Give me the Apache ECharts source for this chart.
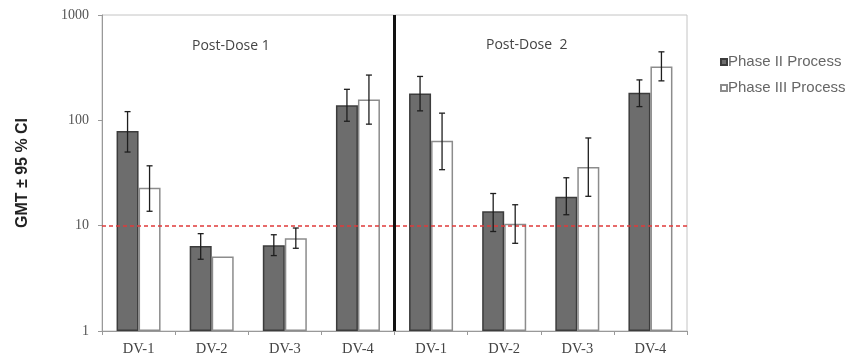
<!DOCTYPE html>
<html>
<head>
<meta charset="utf-8">
<script src="https://cdn.jsdelivr.net/npm/echarts@6/dist/echarts.min.js"></script>
<style>
  html, body { margin: 0; padding: 0; background: #fff; }
  #chart { width: 857px; height: 357px; }
</style>
</head>
<body>
<div id="chart"></div>
<script>
var categories = ['DV-1', 'DV-2', 'DV-3', 'DV-4', 'DV-1', 'DV-2', 'DV-3', 'DV-4'];
var phase2 = [79, 6.4, 6.5, 139, 180, 13.7, 18.8, 183];
var phase2Low = [50, 4.8, 5.2, 98, 123, 8.8, 12.7, 135];
var phase2High = [121, 8.4, 8.2, 197, 261, 20.2, 28.5, 242];
var phase3 = [22.9, 5.1, 7.6, 158, 64, 10.4, 36, 324];
var phase3Low = [13.7, 5.1, 6.1, 92, 34, 6.8, 19, 237];
var phase3High = [37, 5.1, 9.5, 269, 117, 15.8, 68, 447];
var yTicks = [1, 10, 100, 1000];
var threshold = 10;

var chart = echarts.init(document.getElementById('chart'));

//error bar data: [category index, low, high]
function errData(low, high) {
    var arr = [];
    for (var i = 0; i < low.length; i++) {
        arr.push([i, low[i], high[i]]);
    }
    return arr;
}

function errRender(shift) {
    return function(params, api) {
        var idx = api.value(0);
        var lo = api.coord([idx, api.value(1)]);
        var hi = api.coord([idx, api.value(2)]);
        if (Math.abs(lo[1] - hi[1]) < 1) return; //no interval to show
        var x = lo[0] + shift;
        var style = { stroke: '#1e1e1e', lineWidth: 1.3 };
        return {
            type: 'group',
            children: [
                { type: 'line', shape: { x1: x, y1: lo[1], x2: x, y2: hi[1] }, style: style },
                { type: 'line', shape: { x1: x - 3, y1: lo[1], x2: x + 3, y2: lo[1] }, style: style },
                { type: 'line', shape: { x1: x - 3, y1: hi[1], x2: x + 3, y2: hi[1] }, style: style }
            ]
        };
    };
}

chart.setOption({
    animation: false,
    grid: {
        left: 102, right: 170, top: 15, bottom: 26,
        show: true, borderColor: '#c4c4c4', borderWidth: 1
    },
    legend: {
        orient: 'vertical',
        left: 715, top: 48,
        itemWidth: 6, itemHeight: 6, itemGap: 8,
        icon: 'rect',
        data: ['Phase II Process', 'Phase III Process'],
        textStyle: { fontFamily: 'Liberation Sans, Arial', fontSize: 15, lineHeight: 18, color: '#666', padding: [0, 0, 0, -4] }
    },
    graphic: [
        { type: 'text', left: 192, top: 39, style: { text: 'Post-Dose 1', font: '14px "Open Sans", sans-serif', fill: '#444' } },
        { type: 'text', left: 486, top: 38, style: { text: 'Post-Dose  2', font: '14px "Open Sans", sans-serif', fill: '#444' } }
    ],
    xAxis: {
        type: 'category',
        data: categories,
        axisLine: { lineStyle: { color: '#999', width: 1 } },
        axisTick: { show: true, length: 4, lineStyle: { color: '#999' } },
        axisLabel: { fontFamily: 'Liberation Serif, Times New Roman', fontSize: 14.5, color: '#444', margin: 11 }
    },
    yAxis: {
        type: 'log',
        logBase: 10,
        min: yTicks[0],
        max: yTicks[yTicks.length - 1],
        name: 'GMT ± 95 % CI',
        nameLocation: 'middle',
        nameGap: 71,
        nameTextStyle: { fontFamily: 'Liberation Sans, Arial', fontWeight: 'bold', fontSize: 16, color: '#222' },
        axisLine: { show: true, lineStyle: { color: '#999', width: 1 } },
        axisTick: { show: true, length: 4, lineStyle: { color: '#999' } },
        axisLabel: {
            fontFamily: 'Liberation Serif, Times New Roman', fontSize: 14, color: '#555', margin: 13,
            formatter: function(v) { return String(v); }
        },
        splitLine: { show: false }
    },
    series: [
        {
            name: 'Phase II Process',
            type: 'bar',
            barWidth: 22,
            barGap: '0%',
            data: phase2,
            itemStyle: { color: '#6d6d6d', borderColor: '#3c3c3c', borderWidth: 1.5 },
            markLine: {
                silent: true,
                symbol: 'none',
                label: { show: false },
                lineStyle: { color: '#e03a3a', type: [4, 3], width: 1.5 },
                data: [{ yAxis: threshold }]
            }
        },
        {
            name: 'Phase III Process',
            type: 'bar',
            barWidth: 22,
            data: phase3,
            itemStyle: { color: '#ffffff', borderColor: '#8c8c8c', borderWidth: 1.5 }
        },
        {
            type: 'custom',
            renderItem: errRender(-11),
            data: errData(phase2Low, phase2High),
            z: 5
        },
        {
            type: 'custom',
            renderItem: errRender(11),
            data: errData(phase3Low, phase3High),
            z: 5
        },
        {
            //vertical divider between dose 1 and dose 2
            type: 'custom',
            renderItem: function(params, api) {
                var bottom = api.coord([api.value(0), yTicks[0]]);
                var top = api.coord([api.value(0), yTicks[yTicks.length - 1]]);
                var half = api.size([1, 0])[0] / 2;
                return {
                    type: 'line',
                    shape: { x1: bottom[0] + half, y1: bottom[1], x2: top[0] + half, y2: top[1] },
                    style: { stroke: '#111', lineWidth: 3 }
                };
            },
            data: [[3]],
            z: 6
        }
    ]
});
</script>
</body>
</html>
